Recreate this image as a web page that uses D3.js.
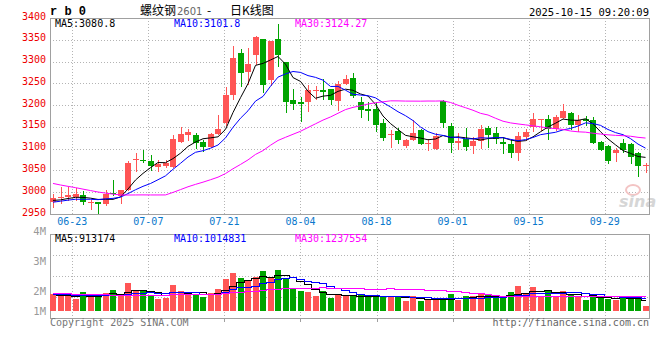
<!DOCTYPE html>
<html>
<head>
<meta charset="utf-8">
<script src="https://cdn.jsdelivr.net/npm/d3@7"></script>
<style>
body { margin: 0; background: #fff; }
</style>
</head>
<body>
<div id="chart"></div>
<script>
// trading days shown (06-18 .. 10-15)
const dates = ["06-18","06-19","06-20","06-23","06-24","06-25","06-26","06-27","06-30",
  "07-01","07-02","07-03","07-04","07-07","07-08","07-09","07-10","07-11","07-14","07-15","07-16","07-17","07-18",
  "07-21","07-22","07-23","07-24","07-25","07-28","07-29","07-30","07-31",
  "08-01","08-04","08-05","08-06","08-07","08-08","08-11","08-12","08-13","08-14","08-15","08-18","08-19","08-20",
  "08-21","08-22","08-25","08-26","08-27","08-28","08-29",
  "09-01","09-02","09-03","09-04","09-05","09-08","09-09","09-10","09-11","09-12","09-15","09-16","09-17","09-18",
  "09-19","09-22","09-23","09-24","09-25","09-26","09-29","09-30",
  "10-09","10-10","10-13","10-14","10-15"];

const open = [2977,2986,2989,2990,2994,2975,2977,2973,2998,2991,
  3004,3074,3075,3072,3059,3061,3059,3116,3131,3131,
  3116,3104,3133,3158,3224,3320,3276,3316,3352,3258,
  3351,3300,3211,3206,3207,3233,3234,3236,3210,3248,
  3262,3207,3191,3191,3160,3131,3140,3107,3120,3143,
  3110,3099,3209,3152,3114,3122,3107,3117,3148,3137,
  3116,3110,3091,3127,3150,3165,3167,3146,3171,3183,
  3155,3167,3165,3116,3106,3089,3112,3110,3091,3060];
const high = [2995,3013,3011,3009,3003,2982,2977,3005,3028,3005,
  3072,3089,3097,3085,3074,3074,3131,3150,3146,3135,
  3120,3137,3177,3242,3335,3329,3331,3358,3352,3348,
  3386,3300,3236,3219,3247,3245,3261,3238,3255,3268,
  3274,3219,3206,3206,3169,3143,3148,3123,3165,3145,
  3122,3137,3211,3160,3135,3148,3127,3154,3152,3150,
  3127,3120,3139,3145,3181,3169,3177,3177,3202,3184,
  3178,3175,3173,3117,3108,3101,3123,3112,3093,3066];
const low = [2967,2975,2982,2982,2973,2961,2952,2971,2994,2975,
  3004,3049,3070,3051,3049,3059,3059,3116,3120,3102,
  3094,3104,3133,3154,3213,3244,3249,3295,3229,3247,
  3290,3184,3192,3163,3187,3213,3213,3202,3188,3248,
  3219,3173,3165,3140,3120,3104,3112,3104,3120,3110,
  3097,3099,3150,3093,3099,3098,3089,3101,3104,3114,
  3091,3082,3075,3120,3140,3143,3123,3143,3171,3146,
  3140,3154,3112,3097,3068,3072,3093,3066,3038,3047];
const close = [2986,2988,2994,2996,2977,2977,2973,2996,2995,3005,
  3068,3076,3072,3061,3064,3066,3123,3134,3139,3114,
  3104,3133,3146,3224,3308,3274,3294,3356,3247,3347,
  3314,3206,3202,3203,3234,3234,3230,3211,3249,3259,
  3221,3188,3187,3154,3125,3134,3120,3120,3137,3111,
  3114,3129,3160,3114,3118,3104,3118,3145,3131,3123,
  3110,3091,3129,3139,3167,3168,3146,3172,3187,3155,
  3165,3164,3114,3097,3072,3097,3098,3082,3061,3062];
const volume = [1410000,1280000,1230000,970000,1520000,1240000,1200000,1460000,1690000,1280000,
  2270000,1690000,1590000,1210000,950000,1060000,2100000,1620000,1400000,1400000,
  1100000,1460000,1770000,2620000,3080000,2680000,2410000,2760000,3240000,2700000,
  3320000,2570000,1850000,1610000,1540000,1210000,1590000,1040000,1350000,1180000,
  1180000,1260000,1200000,1260000,1200000,1250000,1100000,810000,1220000,810000,
  970000,950000,970000,1360000,910000,1200000,1200000,1350000,1260000,1120000,
  1120000,1540000,2020000,1460000,1950000,1240000,1690000,1200000,1610000,1300000,
  1180000,870000,1350000,1150000,970000,900000,1150000,1230000,970000,380000];

// sessions before the window, estimated from where the MA lines start
const histClose = [3095,3088,3084,3080,3076,3072,3070,3068,3060,
  3075,3070,3068,3066,3064,3063,
  2950,2940,2945,2948,2952,
  2965,2970,2975,2978,2977,
  2982,2978,2983,2977];
const histVolume = [2100000,2000000,1900000,2200000,1800000,1700000,1900000,2000000,1800000,1900000,1700000,1800000,1840000,
  900000,1000000,950000,920000,1000000,900000,1000000,
  1450000,1350000,1400000,1420000,1380000,
  1300000,1350000,1280000,1360000];

const maPeriods = [5, 10, 30];
const maPriceLast = ["3080.8", "3101.8", "3124.27"];
const maVolumeLast = ["913174", "1014831", "1237554"];
const tickDates = ["06-23","07-07","07-21","08-04","08-18","09-01","09-15","09-29"];
const priceTicks = [2950,3000,3050,3100,3150,3200,3250,3300,3350,3400];
const volumeTicks = [4000000, 3000000, 2000000, 1000000];
const volumeTickLabels = ["4M", "3M", "2M", "1M"];

const mono = '"DejaVu Sans Mono", monospace';
const upColor = "#ff5555", downColor = "#00a400";
const maColors = ["#000000", "#0000ff", "#ff00ff"];
const gridColor = "#b4b4b4", frameColor = "#a0a0a0";

const svg = d3.select("#chart").append("svg")
    .attr("width", 660)
    .attr("height", 360)
    .style("font-family", mono);

const x = d3.scaleBand().domain(dates).range([49.25, 649.25]).paddingInner(0.2).paddingOuter(0.1);
const y = d3.scaleLinear().domain([2950, 3400]).range([214, 18]);
const yv = d3.scaleLinear().domain([0, 6250000]).range([311, 234]);
const xt = d3.scalePoint().domain(tickDates).range([72.3, 604.7]);
const yvLabel = d3.scaleLinear().domain([1000000, 2000000, 3000000, 4000000]).range([310.5, 290.5, 260.5, 230.5]);

const left = 50, right = 649, volTop = 234, volBottom = 318;
const px = v => Math.round(v) + 0.5;
const cx = d => Math.round(x(d));

function movingAvg(hist, vals, n) {
    const all = hist.concat(vals);
    return vals.map((v, i) => d3.mean(all.slice(hist.length + i - n + 1, hist.length + i + 1)));
}

// grid
const grid = svg.append("g").attr("stroke", gridColor).attr("stroke-dasharray", "1,2");
grid.selectAll(".hg").data(priceTicks.filter(t => t > 2950 && t < 3400)).enter().append("line")
    .attr("x1", left).attr("x2", right)
    .attr("y1", d => px(y(d))).attr("y2", d => px(y(d)));
grid.selectAll(".vg").data([0.25, 0.5, 0.75]).enter().append("line")
    .attr("x1", left).attr("x2", right)
    .attr("y1", d => px(volTop + d * (volBottom - volTop))).attr("y2", d => px(volTop + d * (volBottom - volTop)));
tickDates.forEach(t => {
    grid.append("line").attr("x1", px(xt(t))).attr("x2", px(xt(t))).attr("y1", y(3400)).attr("y2", y(2950));
    grid.append("line").attr("x1", px(xt(t))).attr("x2", px(xt(t))).attr("y1", volTop).attr("y2", volBottom);
});
svg.append("g").attr("stroke", frameColor).selectAll("line").data(tickDates).enter().append("line")
    .attr("x1", d => px(xt(d))).attr("x2", d => px(xt(d)))
    .attr("y1", volBottom).attr("y2", volBottom + 4);

// sina watermark
svg.append("ellipse").attr("cx", 633).attr("cy", 190).attr("rx", 7).attr("ry", 5)
    .attr("fill", "none").attr("stroke", "#f3c4c4").attr("stroke-width", 2);
svg.append("text").attr("x", 619).attr("y", 207)
    .style("font-family", "'DejaVu Sans', sans-serif").style("font-size", "16px")
    .style("font-weight", "bold").style("font-style", "italic")
    .attr("fill", "#d6d6d6").text("sina");

// frames
svg.append("rect").attr("x", left + 0.5).attr("y", px(y(3400))).attr("width", right - left)
    .attr("height", Math.round(y(2950)) - Math.round(y(3400)))
    .attr("fill", "none").attr("stroke", frameColor);
svg.append("rect").attr("x", left + 0.5).attr("y", volTop + 0.5).attr("width", right - left)
    .attr("height", volBottom - volTop)
    .attr("fill", "none").attr("stroke", frameColor);

const bars = dates.map((d, i) => ({d, o: open[i], h: high[i], l: low[i], c: close[i], v: volume[i]}));
const col = b => b.c >= b.o ? upColor : downColor;

// candles
const cg = svg.append("g").attr("shape-rendering", "crispEdges");
cg.selectAll(".wick").data(bars).enter().append("line")
    .attr("x1", b => cx(b.d) + 3.5).attr("x2", b => cx(b.d) + 3.5)
    .attr("y1", b => Math.round(y(b.h))).attr("y2", b => Math.round(y(b.l)) + 1)
    .attr("stroke", col);
cg.selectAll(".body").data(bars).enter().append("rect")
    .attr("x", b => cx(b.d))
    .attr("y", b => Math.round(y(Math.max(b.o, b.c))))
    .attr("width", x.bandwidth())
    .attr("height", b => Math.max(1, Math.round(y(Math.min(b.o, b.c))) - Math.round(y(Math.max(b.o, b.c)))))
    .attr("fill", col);

// volume bars
svg.append("g").attr("shape-rendering", "crispEdges").selectAll("rect").data(bars).enter().append("rect")
    .attr("x", b => cx(b.d))
    .attr("y", b => Math.round(yv(b.v)))
    .attr("width", x.bandwidth())
    .attr("height", b => Math.round(yv(0)) - Math.round(yv(b.v)))
    .attr("fill", col);

// moving averages
const mid = i => x(dates[i]) + x.bandwidth() / 2;
maPeriods.forEach((n, k) => {
    const mp = movingAvg(histClose, close, n);
    svg.append("path").datum(mp)
        .attr("d", d3.line().x((d, i) => mid(i)).y(d => y(d)))
        .attr("fill", "none").attr("stroke", maColors[k]).attr("stroke-width", 1);
    const mv = movingAvg(histVolume, volume, n);
    svg.append("path").datum(mv)
        .attr("d", d3.line().x((d, i) => mid(i)).y(d => Math.round(yv(d)) + 0.5).curve(d3.curveStep))
        .attr("fill", "none").attr("stroke", maColors[k]).attr("stroke-width", 1.2)
        .attr("shape-rendering", "crispEdges");
});

// axis labels
svg.append("g").selectAll("text").data(priceTicks).enter().append("text")
    .attr("x", 46).attr("y", d => y(d) - 2)
    .attr("text-anchor", "end").attr("dominant-baseline", "central")
    .style("font-size", "10px").attr("fill", "#ee0000")
    .text(d => d);
svg.append("g").selectAll("text").data(tickDates).enter().append("text")
    .attr("x", d => xt(d)).attr("y", 225)
    .attr("text-anchor", "middle")
    .style("font-size", "10px").attr("fill", "#0a78cc")
    .text(d => d);
svg.append("g").selectAll("text").data(volumeTicks).enter().append("text")
    .attr("x", 46).attr("y", d => yvLabel(d))
    .attr("text-anchor", "end").attr("dominant-baseline", "central")
    .style("font-size", "10.5px").attr("fill", "#999")
    .text((d, i) => volumeTickLabels[i]);

// MA legends
const legendX = [55, 174, 295];
maPeriods.forEach((n, k) => {
    svg.append("text").attr("x", legendX[k]).attr("y", 27)
        .style("font-size", "10px").attr("fill", maColors[k])
        .text("MA" + n + ":" + maPriceLast[k]);
    svg.append("text").attr("x", legendX[k]).attr("y", 241.5)
        .style("font-size", "10px").attr("fill", maColors[k])
        .text("MA" + n + ":" + maVolumeLast[k]);
});

// header
svg.append("text").attr("x", 50).attr("y", 15)
    .style("font-family", '"Liberation Mono", monospace').style("font-size", "12px").style("font-weight", "bold")
    .text("r b 0");
const cjk = '"Noto Sans CJK SC", sans-serif';
svg.append("text").attr("x", 140).attr("y", 15).style("font-family", cjk).style("font-size", "12px").text("螺纹钢");
svg.append("text").attr("x", 177).attr("y", 15).style("font-family", '"DejaVu Sans", sans-serif')
    .style("font-size", "10px").attr("fill", "#666").text("2601");
svg.append("text").attr("x", 207).attr("y", 15).style("font-family", cjk).style("font-size", "12px").text("-");
svg.append("text").attr("x", 230).attr("y", 15).style("font-family", cjk).style("font-size", "12px").text("日K线图");
svg.append("text").attr("x", 649).attr("y", 16).attr("text-anchor", "end")
    .style("font-size", "10.5px").text("2025-10-15 09:20:09");

// footer
svg.append("text").attr("x", 50).attr("y", 326)
    .style("font-size", "10px").attr("fill", "#777").text("Copyright 2025 SINA.COM");
svg.append("text").attr("x", 649).attr("y", 326).attr("text-anchor", "end")
    .style("font-size", "10px").attr("fill", "#666").text("http://finance.sina.com.cn");
</script>
</body>
</html>
